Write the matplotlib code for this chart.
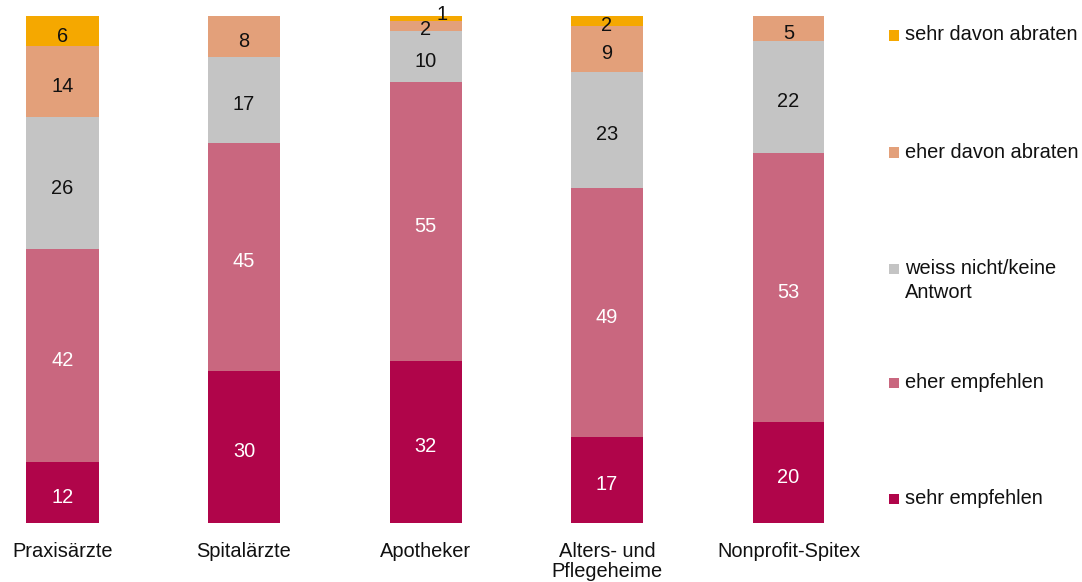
import matplotlib
matplotlib.use("Agg")
import matplotlib.pyplot as plt
from matplotlib.patches import Rectangle
from matplotlib.transforms import offset_copy

plt.rcParams['font.family'] = ['Liberation Sans', 'DejaVu Sans']

categories = ["Praxisärzte", "Spitalärzte", "Apotheker", "Alters- und\nPflegeheime", "Nonprofit-Spitex"]
series_names = ["sehr empfehlen", "eher empfehlen", "weiss nicht/keine\nAntwort",
                "eher davon abraten", "sehr davon abraten"]
sehr_empfehlen = [12, 30, 32, 17, 20]
eher_empfehlen = [42, 45, 55, 49, 53]
weiss_nicht = [26, 17, 10, 23, 22]
eher_abraten = [14, 8, 2, 9, 5]
sehr_abraten = [6, 0, 1, 2, 0]
series = [sehr_empfehlen, eher_empfehlen, weiss_nicht, eher_abraten, sehr_abraten]
colors = ["#B0054A", "#C9677F", "#C4C4C4", "#E3A07A", "#F5A800"]
text_colors = ["white", "white", "#111111", "#111111", "#111111"]

W, H = 1082, 582
fig = plt.figure(figsize=(W / 100, H / 100), dpi=100)
ax = fig.add_axes([0, (H - 523) / H, 852 / W, 507 / H])
unit = 181.5
ax.set_xlim(-62.5 / unit, (852 - 62.5) / unit)
ax.set_ylim(0, 100)

x = list(range(len(categories)))
bw = 72 / unit
bottoms = [0] * len(categories)
fs = 14.4
tr = offset_copy(ax.transData, fig=fig, x=0, y=-3.5, units="points")
for si, (vals, col, tc) in enumerate(zip(series, colors, text_colors)):
    ax.bar(x, vals, bw, bottom=bottoms, color=col, linewidth=0)
    for i, v in enumerate(vals):
        if v > 0:
            cy = bottoms[i] + v / 2
            cx = i
            if v == 1:
                cx = i + 0.09
                cy = bottoms[i] + v + 1.2
            elif v == 2 and si == 3:
                cy = bottoms[i] + v / 2 + 0.3
            ax.text(cx, cy, str(v), ha="center", va="center", color=tc, fontsize=fs,
                    transform=tr)
    bottoms = [b + v for b, v in zip(bottoms, vals)]

ax.set_xticks(x)
ax.set_xticklabels(categories, fontsize=fs, linespacing=1.05, color="#111111")
ax.tick_params(axis="x", length=0, pad=14)
ax.set_yticks([])
for s in ax.spines.values():
    s.set_visible(False)

# legend (top to bottom: reverse order)
leg_y = [498, 382, 268, 152, 35]
for name, col, yy in zip(series_names, colors, leg_y):
    fig.patches.append(Rectangle((889 / W, (H - yy - 5.5) / H), 10 / W, 10 / H,
                                 transform=fig.transFigure, color=col, linewidth=0))
    if "\n" in name:
        fig.text(905 / W, (H - yy + 9) / H, name, fontsize=fs, va="top", ha="left",
                 color="#111111", linespacing=1.3)
    else:
        fig.text(905 / W, (H - yy) / H, name, fontsize=fs, va="center", ha="left",
                 color="#111111")

fig.savefig("out.png", dpi=100)
